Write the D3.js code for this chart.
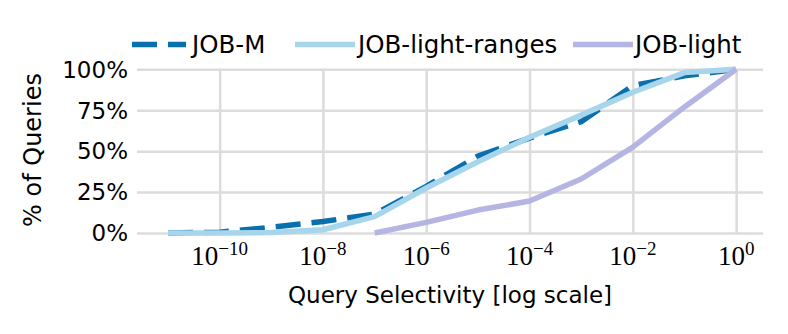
<!DOCTYPE html>
<html>
<head>
<meta charset="utf-8">
<script src="https://cdn.jsdelivr.net/npm/d3@7"></script>
<style>
  html, body { margin: 0; padding: 0; background: #fff; }
  svg text { font-family: "DejaVu Sans", sans-serif; fill: #000; }
</style>
</head>
<body>
<svg id="chart" width="788" height="334"></svg>
<script>
// ---- data ----
const exponents = [-11, -10, -9, -8, -7, -6, -5, -4, -3, -2, -1, 0];
const jobM = [0, 0.5, 3.5, 7, 11.5, 28.5, 47, 58, 68, 90, 96, 100];
const jobLightRanges = [0, 0, 0.3, 2, 10, 27.5, 43.5, 58.5, 72, 86, 98, 100];
const jobLightExp = [-7, -6, -5, -4, -3, -2, -1, 0];
const jobLight = [0, 6.5, 14, 19.5, 33, 52.5, 77, 100];
const xTickExps = [-10, -8, -6, -4, -2, 0];
const yTicks = [0, 25, 50, 75, 100];
const seriesNames = ["JOB-M", "JOB-light-ranges", "JOB-light"];

const colors = {"JOB-M": "#0a70ad", "JOB-light-ranges": "#a6d5ec", "JOB-light": "#b5b5e3"};

const svg = d3.select("#chart");
const pL = 137, pR = 763, pT = 69.3, pB = 233;

const x = d3.scaleLog().domain([Math.pow(10, -11.6), Math.pow(10, 0.52)]).range([pL, pR]);
const y = d3.scaleLinear().domain([0, 100]).range([pB, pT]);

// grid
const gx = svg.append("g").attr("transform", `translate(0,${pB})`)
  .call(d3.axisBottom(x).tickValues(xTickExps.map(e => Math.pow(10, e)))
    .tickSize(-(pB - pT)).tickFormat(""));
gx.select(".domain").remove();
gx.selectAll("line").attr("stroke", "#dcdcdc").attr("stroke-width", 2.5);

const gy = svg.append("g").attr("transform", `translate(${pL},0)`)
  .call(d3.axisLeft(y).tickValues(yTicks).tickSize(-(pR - pL)).tickFormat(""));
gy.select(".domain").remove();
gy.selectAll("line").attr("stroke", "#dcdcdc").attr("stroke-width", 2.5);

// y tick labels
svg.append("g").selectAll("text").data(yTicks).join("text")
  .attr("x", 128).attr("y", d => y(d)).attr("dy", "0.36em")
  .attr("text-anchor", "end").attr("font-size", 23)
  .text(d => d + "%");

// x tick labels
const xl = svg.append("g").selectAll("text").data(xTickExps).join("text")
  .attr("x", d => x(Math.pow(10, d))).attr("y", 265)
  .attr("text-anchor", "middle")
  .style("font-family", "'Liberation Serif', serif");
xl.append("tspan").attr("font-size", 27).text("10");
xl.append("tspan").attr("font-size", 19).attr("dy", -10)
  .text(d => d < 0 ? "\u2212" + (-d) : String(d));

// axis titles
svg.append("text").attr("x", 450).attr("y", 303).attr("text-anchor", "middle")
  .attr("font-size", 23).text("Query Selectivity [log scale]");
svg.append("text").attr("transform", "translate(41,150) rotate(-90)")
  .attr("text-anchor", "middle").attr("font-size", 24).text("% of Queries");

// lines
const line = d3.line().x(d => x(Math.pow(10, d[0]))).y(d => y(d[1]));
const dataSets = [
  {name: "JOB-M", pts: exponents.map((e, i) => [e, jobM[i]]), dash: "25,11"},
  {name: "JOB-light-ranges", pts: exponents.map((e, i) => [e, jobLightRanges[i]]), dash: null},
  {name: "JOB-light", pts: jobLightExp.map((e, i) => [e, jobLight[i]]), dash: null}
];
svg.append("g").selectAll("path").data(dataSets).join("path")
  .attr("d", d => line(d.pts))
  .attr("fill", "none")
  .attr("stroke", d => colors[d.name])
  .attr("stroke-width", 5.5)
  .attr("stroke-linejoin", "round")
  .attr("stroke-dasharray", d => d.dash);

// legend
const legendX = [132, 295, 573];
const legendLen = [54, 60, 60];
const legendTextX = [192, 358, 635];
const lg = svg.append("g").selectAll("g").data(dataSets).join("g");
lg.append("line")
  .attr("x1", (d, i) => legendX[i]).attr("x2", (d, i) => legendX[i] + legendLen[i])
  .attr("y1", 44.5).attr("y2", 44.5)
  .attr("stroke", d => colors[d.name]).attr("stroke-width", 5.5)
  .attr("stroke-dasharray", d => d.dash);
lg.append("text").attr("x", (d, i) => legendTextX[i]).attr("y", 44.5).attr("dy", "0.36em")
  .attr("font-size", 24.5).text(d => d.name);
</script>
</body>
</html>
